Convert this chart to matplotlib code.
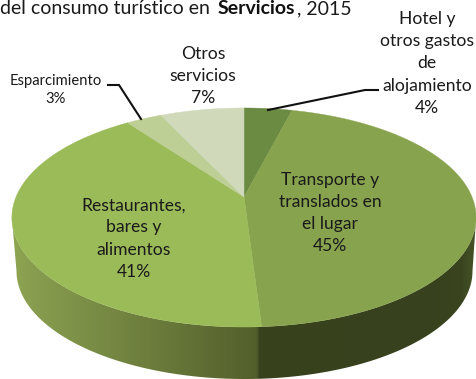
import numpy as np
import matplotlib
matplotlib.use("Agg")
import matplotlib.pyplot as plt
from matplotlib.colors import LinearSegmentedColormap
from matplotlib.patches import Polygon

categories = ["Hotel y\notros gastos\nde\nalojamiento", "Transporte y\ntranslados en\nel lugar",
              "Restaurantes,\nbares y\nalimentos", "Esparcimiento", "Otros\nservicios"]
values = [4, 45, 41, 3, 7]
colors = ["#6b8a42", "#88a34e", "#9bbb59", "#bdcf95", "#d0dabb"]
side_stops = [0.0, 0.03, 0.528, 0.532, 0.9, 0.97, 1.0]
side_colors = ["#8fa652", "#8a9f50", "#525f2b", "#38431e", "#37411d", "#3a4520", "#465426"]

plt.rcParams["font.family"] = ["Lato", "DejaVu Sans"]
fig = plt.figure(figsize=(4.77, 3.79), dpi=100)
ax = fig.add_axes([0, 0, 1, 1])
ax.set_xlim(0, 477)
ax.set_ylim(379, 0)
ax.axis("off")

CX, CY, SX, SY, K = 244.0, 197.0, 228.0, 68.8, 0.1872

def project(theta):
    x, y = np.sin(theta), np.cos(theta)
    d = 1 + K * y
    return CX + SX * x / d, (CY - SY * y) / d

# side wall: front arc of the top rim + bottom ellipse, filled with a horizontal gradient
fine = np.linspace(0, 2 * np.pi, 800)
tx, ty = project(fine)
i_r, i_l = np.argmax(tx), np.argmin(tx)
rim = np.c_[tx[i_r:i_l + 1], ty[i_r:i_l + 1]]
a = np.linspace(0, np.pi, 300)
bottom = np.c_[244.5 + 228.0 * np.cos(a), 271.0 + 108.0 * np.sin(a)]
patch = Polygon(np.vstack([rim[:1], bottom, rim[-1:], rim[::-1]]), closed=True, fc="none", ec="none")
ax.add_patch(patch)
cmap = LinearSegmentedColormap.from_list("side", list(zip(side_stops, side_colors)))
im = ax.imshow(np.linspace(0, 1, 480)[None, :], extent=(11, 477, 379, 190), cmap=cmap,
               aspect="auto", zorder=1)
im.set_clip_path(patch)
ax.set_xlim(0, 477)
ax.set_ylim(379, 0)

# top surface
total = sum(values)
start = 0.0
for v, c in zip(values, colors):
    end = start + v / total
    px, py = project(np.linspace(start, end, 120) * 2 * np.pi)
    ax.add_patch(Polygon(np.vstack([[[CX, CY]], np.c_[px, py]]), closed=True, fc=c, ec=c, lw=0.3, zorder=2))
    start = end

# leader lines
ax.plot([268, 365, 378], [110, 90, 90], color="#111111", lw=1.5, zorder=3, solid_joinstyle="miter")
ax.plot([108, 119, 141], [85, 85, 119], color="#111111", lw=1.5, zorder=3, solid_joinstyle="miter")

FS = 12.6
TC = "#1a1a1a"
pct = [f"{v}%" for v in values]

def lab(x, y, s, fs=FS, ls=1.47):
    ax.text(x, y, s, ha="center", va="center", fontsize=fs, color=TC, linespacing=ls, zorder=4)

lab(427, 63.5, categories[0] + "\n" + pct[0])
lab(330, 213, categories[1] + "\n" + pct[1])
lab(134, 238.5, categories[2] + "\n" + pct[2])
lab(56, 90, categories[3] + "\n" + pct[3], 10.6, 1.45)
lab(203, 76, categories[4] + "\n" + pct[4])

TS = 14.0
ax.text(0, 9, "del consumo turístico en", fontsize=TS, color=TC, va="center")
ax.text(218, 9, "Servicios", fontsize=TS, fontweight="bold", color="#111111", va="center")
ax.text(297, 9, ", 2015", fontsize=TS, color=TC, va="center")

fig.savefig("out.png", dpi=100)
